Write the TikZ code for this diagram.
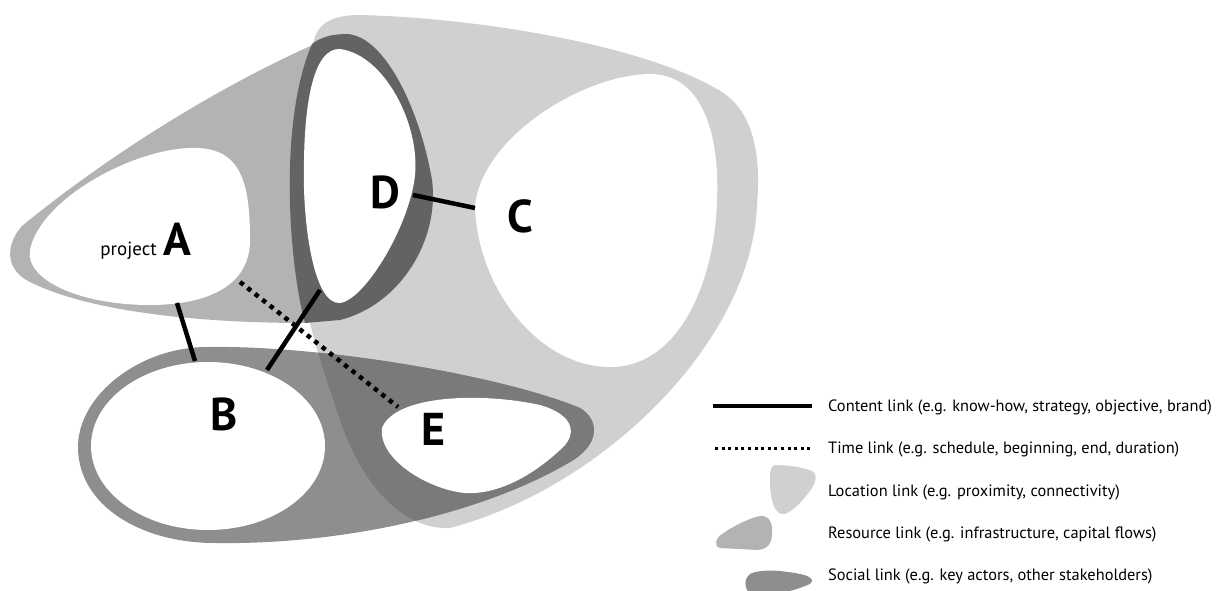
\documentclass[tikz,border=0pt]{standalone}
\usepackage{fontspec}
\setmainfont{PT Sans}
\definecolor{locc}{HTML}{D0D0D0}
\definecolor{resc}{HTML}{B3B3B3}
\definecolor{socc}{HTML}{8E8E8E}
\definecolor{soclocc}{HTML}{7A7A7A}
\definecolor{ringc}{HTML}{636363}
\newcommand\locpath{(313,46) .. controls (315,25) and (330,15) .. (360,15)
  .. controls (480,18) and (640,45) .. (715,88)
  .. controls (760,110) and (760,170) .. (757,205)
  .. controls (752,340) and (605,487) .. (450,528)
  .. controls (400,530) and (360,480) .. (340,420)
  .. controls (320,360) and (298,300) .. (298,230)
  .. controls (298,150) and (305,80) .. (313,46) -- cycle}
\newcommand\socpath{(207,347) .. controls (140,347) and (78,395) .. (78,447)
  .. controls (78,505) and (140,543) .. (215,543)
  .. controls (340,545) and (480,515) .. (570,462)
  .. controls (600,445) and (600,420) .. (580,408)
  .. controls (500,375) and (320,345) .. (207,347) -- cycle}
\tikzset{
  locfill/.style={fill=locc},
  resfill/.style={fill=resc},
  socfill/.style={fill=socc},
  soclocfill/.style={fill=soclocc},
  ringfill/.style={fill=ringc},
  hole/.style={fill=white},
  contentlink/.style={draw=black, line width=4.5pt},
  timelink/.style={draw=black, line width=4.5pt, dash pattern=on 4.5pt off 5pt},
  letter/.style={inner sep=0pt, anchor=base, font=\fontsize{46}{50}\selectfont\bfseries},
  legtext/.style={inner sep=0pt, anchor=base west, font=\fontsize{16.4}{19}\selectfont}
}
\begin{document}
\begin{tikzpicture}[x=1pt, y=-1pt]
\clip (0,0) rectangle (1216,591);
% location
\fill[locfill] \locpath;
% resource
\fill[resfill] (306,323) .. controls (200,323) and (90,312) .. (30,282)
  .. controls (5,270) and (5,245) .. (22,226)
  .. controls (90,170) and (200,95) .. (315,44)
  -- (330,60) -- (320,300) -- cycle;
% social
\fill[socfill] \socpath;
\begin{scope}
  \clip \locpath;
  \fill[soclocfill] \socpath;
\end{scope}
% D ring
\fill[ringfill] (347,34) .. controls (385,36) and (420,110) .. (432,180)
  .. controls (440,240) and (400,305) .. (340,320)
  -- (305,323)
  .. controls (288,260) and (279,120) .. (312,44)
  .. controls (322,36) and (335,34) .. (347,34) -- cycle;
% holes
\fill[hole] (340,49) .. controls (385,55) and (420,125) .. (415,175)
  .. controls (410,225) and (365,300) .. (340,303)
  .. controls (313,305) and (302,220) .. (304,160)
  .. controls (305,100) and (314,48) .. (340,49) -- cycle;
\fill[hole] (475,207) .. controls (480,140) and (580,75) .. (650,74)
  .. controls (700,74) and (720,130) .. (717,200)
  .. controls (715,280) and (680,367) .. (610,367)
  .. controls (540,367) and (478,290) .. (475,207) -- cycle;
\fill[hole] (30,250) .. controls (40,200) and (130,150) .. (190,148)
  .. controls (240,146) and (250,180) .. (250,240)
  .. controls (250,290) and (200,305) .. (150,305)
  .. controls (80,305) and (25,280) .. (30,250) -- cycle;
\fill[hole] (208,446) ellipse [x radius=117, y radius=84];
\fill[hole] (382,428) .. controls (395,395) and (480,392) .. (540,405)
  .. controls (575,415) and (578,435) .. (560,450)
  .. controls (530,478) and (495,495) .. (465,493)
  .. controls (430,490) and (378,460) .. (382,428) -- cycle;
% letters
\node[letter] (A) at (177.5,255) {A};
\node[inner sep=0pt, anchor=base east, font=\fontsize{19}{23}\selectfont] (proj) at (157,255) {project};
\node[letter] (B) at (224,430) {B};
\node[letter] (C) at (520,233) {C};
\node[letter] (D) at (385,208) {D};
\node[letter] (E) at (434,445) {E};
% link end points on the shapes
\coordinate (aB) at (177,303);
\coordinate (bA) at (195,361);
\coordinate (bD) at (267,370);
\coordinate (dB) at (320,290);
\coordinate (dC) at (413,195);
\coordinate (cD) at (475,208);
\coordinate (aE) at (240,282);
\coordinate (eA) at (398,407);
\draw[contentlink] (aB) -- (bA);
\draw[contentlink] (bD) -- (dB);
\draw[contentlink] (dC) -- (cD);
\draw[timelink] (aE) -- (eA);
% legend
\coordinate (l1a) at (713,406); \coordinate (l1b) at (812,406);
\coordinate (l2a) at (715,448); \coordinate (l2b) at (812,448);
\draw[draw=black, line width=3.5pt] (l1a) -- (l1b);
\draw[draw=black, line width=3pt, dash pattern=on 3pt off 3.6pt] (l2a) -- (l2b);
\fill[locfill] (775,465) .. controls (790,465) and (805,468) .. (812,471)
  .. controls (818,474) and (816,482) .. (812,488)
  .. controls (805,498) and (795,510) .. (785,514)
  .. controls (775,516) and (770,500) .. (770,482)
  .. controls (770,472) and (770,466) .. (775,465) -- cycle;
\fill[resfill] (720,548) .. controls (713,546) and (716,538) .. (722,534)
  .. controls (735,525) and (750,518) .. (760,516)
  .. controls (770,515) and (773,525) .. (772,533)
  .. controls (772,543) and (768,549) .. (758,550) -- cycle;
\fill[socfill] (750,574) .. controls (760,569) and (780,570) .. (800,574)
  .. controls (815,577) and (815,583) .. (805,586)
  .. controls (790,592) and (770,596) .. (755,596)
  .. controls (745,594) and (742,580) .. (750,574) -- cycle;
\node[legtext] (t1) at (828,411) {Content link (e.g. know-how, strategy, objective, brand)};
\node[legtext] (t2) at (828,453) {Time link (e.g. schedule, beginning, end, duration)};
\node[legtext] (t3) at (828,496) {Location link (e.g. proximity, connectivity)};
\node[legtext] (t4) at (828,538) {Resource link (e.g. infrastructure, capital flows)};
\node[legtext] (t5) at (828,580) {Social link (e.g. key actors, other stakeholders)};
\end{tikzpicture}
\end{document}
